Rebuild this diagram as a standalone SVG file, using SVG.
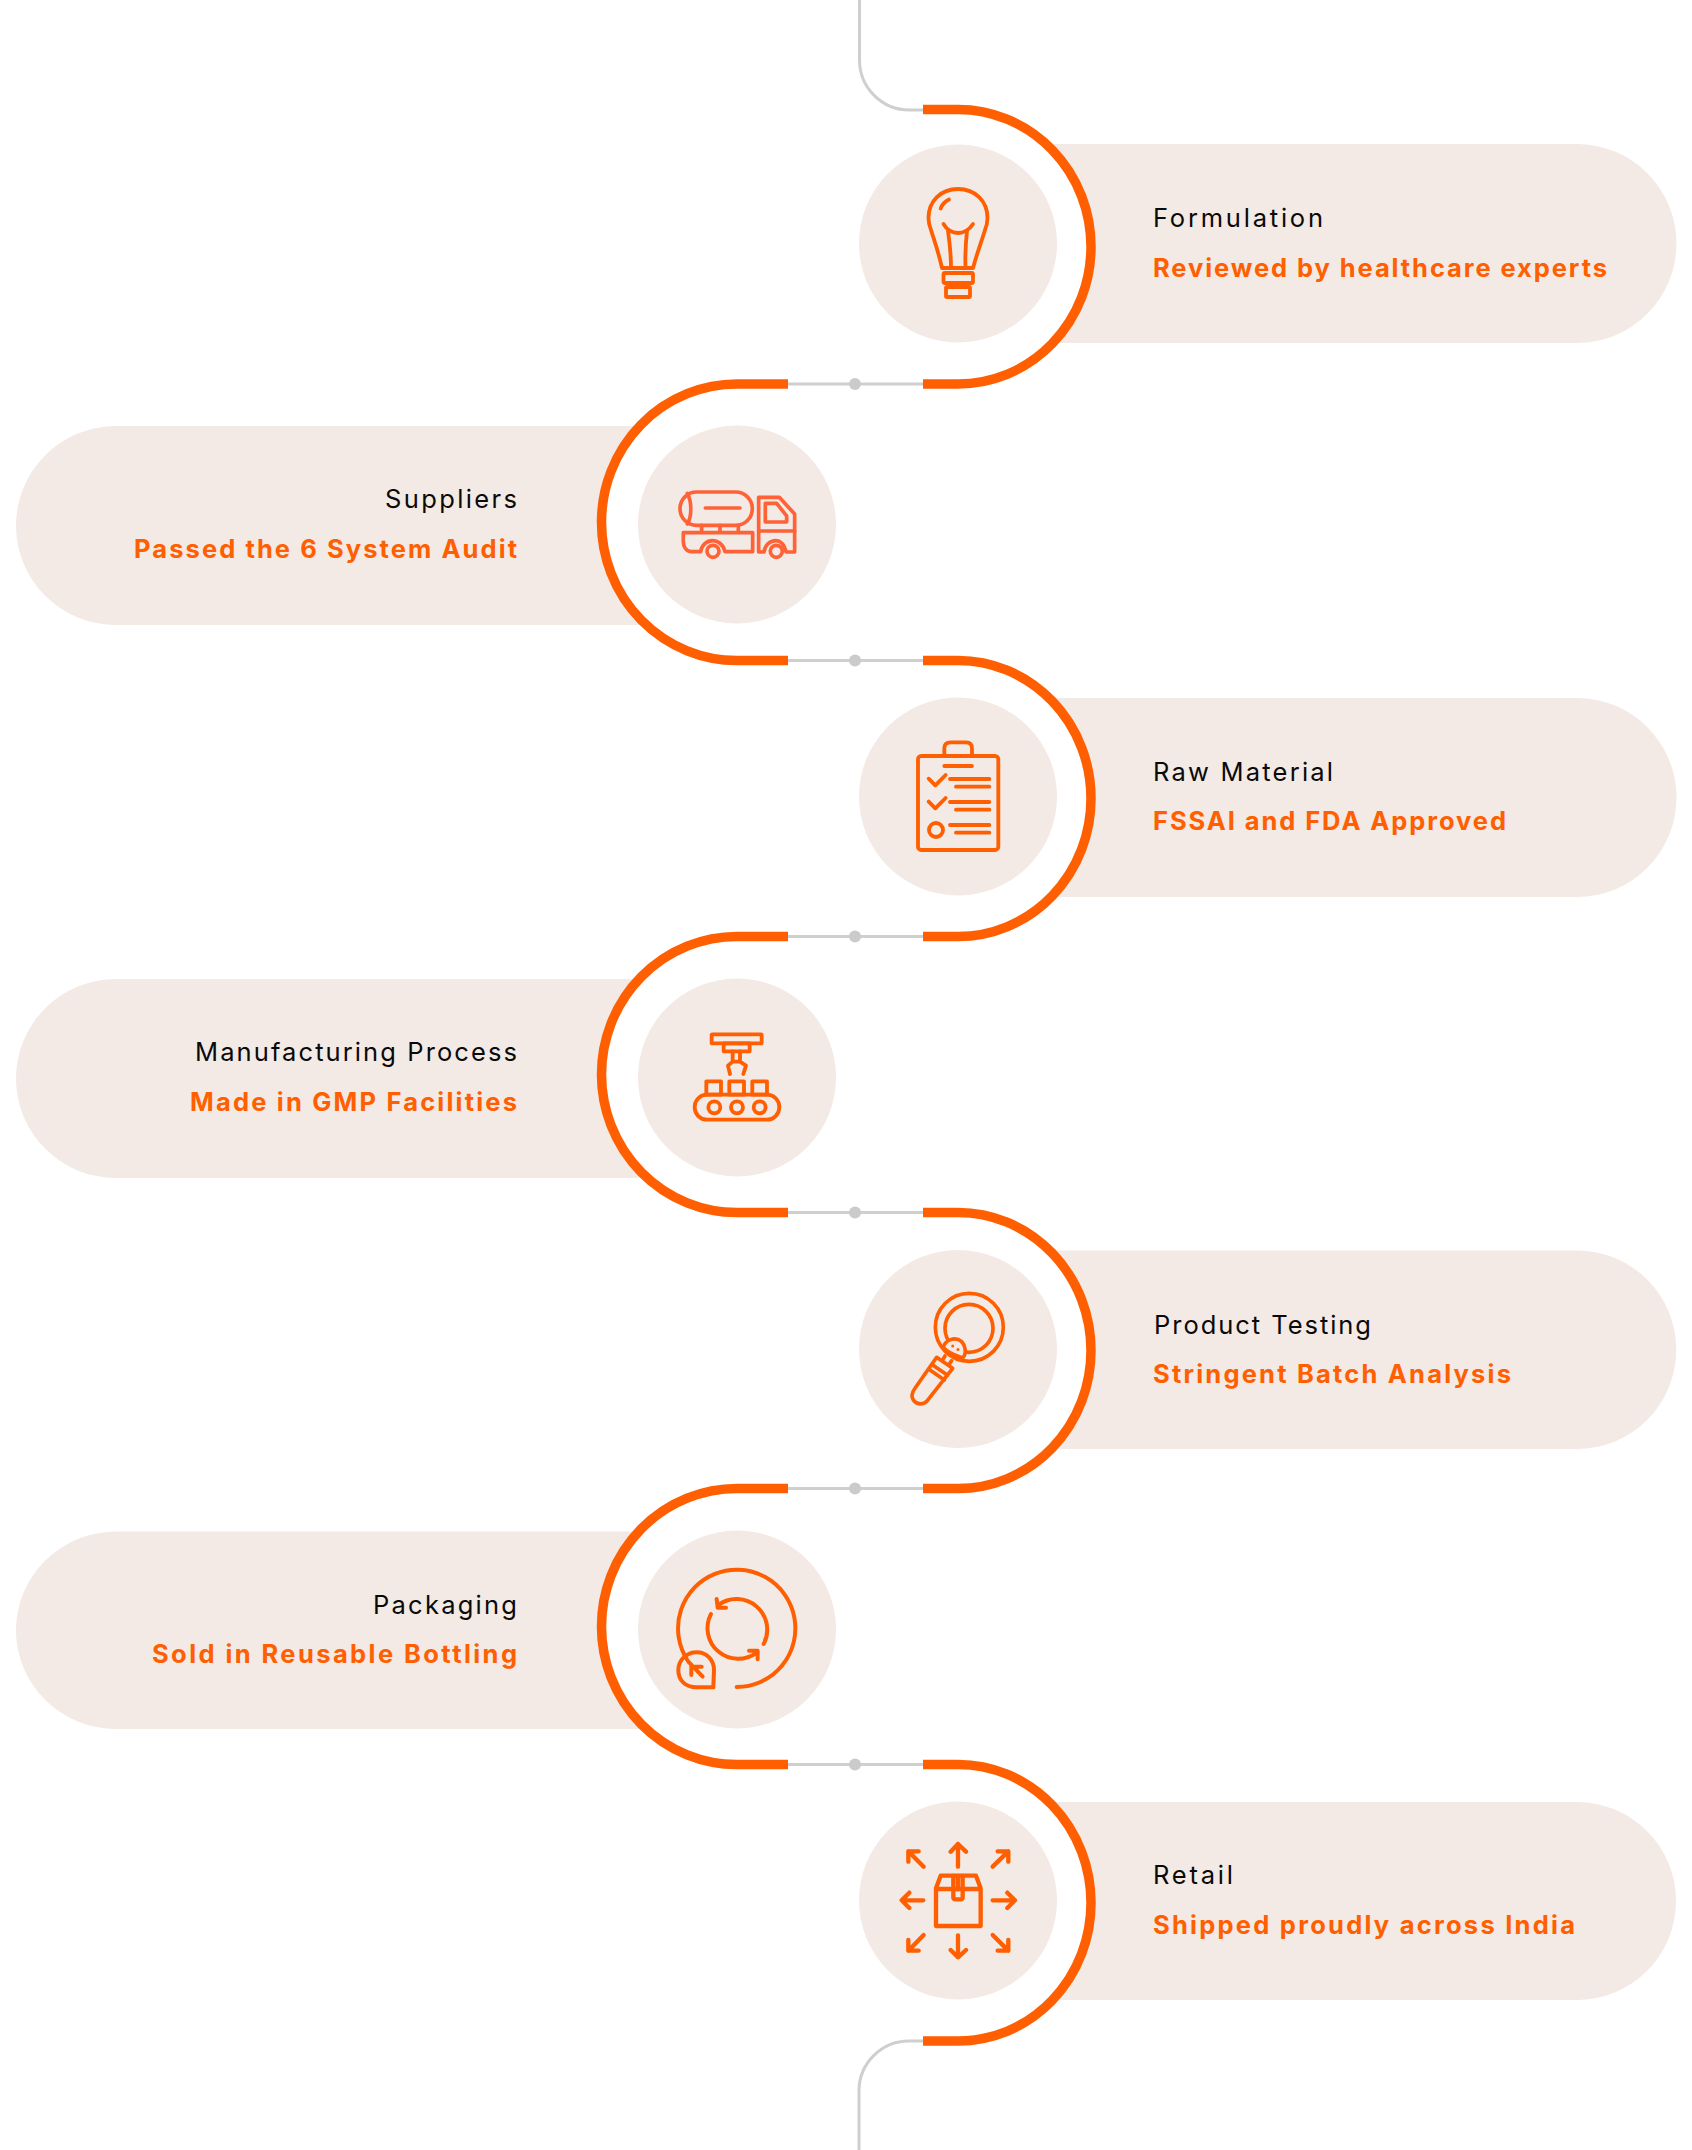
<svg xmlns="http://www.w3.org/2000/svg" width="1692" height="2150" viewBox="0 0 1692 2150">
<style>
.pill,.disc{fill:#f3e9e5}
.arc{fill:none;stroke:#ff5f00;stroke-width:9.500}
.grey{fill:none;stroke:#cfcfcf;stroke-width:3}
.dot{fill:#cbcbcb}
.ic{fill:none;stroke:#ff5f00;stroke-linecap:round;stroke-linejoin:round}
.t1{font-family:"Inter","Liberation Sans",sans-serif;font-size:25.500px;fill:#0a0a0a;font-variant-ligatures:none}
.t2{font-family:"Inter","Liberation Sans",sans-serif;font-size:25.500px;font-weight:700;fill:#ff5f00;font-variant-ligatures:none}
.e{text-anchor:end}
</style>
<rect width="1692" height="2150" fill="#fff"/>

<g id="node-formulation">
<path class="pill" d="M1046 144H1577A99.500 99.500 0 0 1 1577 343H1053A133 137.250 0 0 0 1046 144Z"/>
<circle class="disc" cx="958" cy="243.500" r="99"/>
<g class="ic" stroke-width="3.800">
<path d="M942 268C938 250 934 240 931 230C929 225 928.500 222 928.500 218C928.500 201 941 189 958 189C975 189 987.500 201 987.500 218C987.500 222 987 225 985 230C982 240 978 250 973 268Z"/>
<path d="M943.500 224C947 230 952 233 958 233C964 233 969 230 973 224"/>
<path d="M948 231C950 245 951 255 951 267M967 231C965.500 245 965 255 965.500 267"/>
<path d="M949 199.500C945 201.500 942 204.500 940.700 208.500"/>
<rect x="943.500" y="273" width="29.500" height="10" rx="1.500"/>
<rect x="946" y="287" width="24" height="10" rx="1"/>
</g>
<text class="t1" x="1153" y="227.300" textLength="170">Formulation</text>
<text class="t2" x="1153" y="276.800" textLength="454">Reviewed by healthcare experts</text>
</g>

<g id="node-suppliers">
<path class="pill" d="M640 426H116A100 99.500 0 0 0 116 625H647A135.500 138 0 0 1 640 426Z"/>
<circle class="disc" cx="737" cy="524.500" r="99"/>
<g class="ic" transform="translate(600 370) scale(.3333)" stroke-width="11" style="stroke:#ff6236">
<rect x="240" y="366" width="217" height="100" rx="50"/>
<path d="M262 370C276 395 276 440 262 462M316 414H420M305 466V486M360 466V486M415 466V486"/>
<path d="M250 488H458V545H375C370 522 352 512 338 512C320 512 305 525 302 545H275C258 545 250 530 250 515Z"/>
<circle cx="339" cy="544" r="18"/>
<path d="M476 382H538L584 432V546H558C553 522 540 512 528 512C510 512 495 525 492 546H476Z"/>
<path d="M496 400H530L560 438V456H496ZM476 483H584"/>
<circle cx="529" cy="544" r="18"/>
</g>
<text class="t1 e" x="517" y="508.300" textLength="132">Suppliers</text>
<text class="t2 e" x="517" y="558.300" textLength="383">Passed the 6 System Audit</text>
</g>

<g id="node-raw-material">
<path class="pill" d="M1050 698H1577A99.500 99.500 0 0 1 1577 897H1051A133 138 0 0 0 1050 698Z"/>
<circle class="disc" cx="958" cy="796.500" r="99"/>
<g class="ic" transform="translate(860 700) scale(.3333)" stroke-width="11.500">
<rect x="174" y="168" width="241" height="282" rx="10"/>
<path d="M253 165V145Q253 127 272 127H318Q336 127 336 145V165M253 198H336"/>
<path d="M206 236L226 256L257 225M270 237H388M288 260H388M206 305L226 325L257 294M270 306H388M288 329H388M270 375H388M288 398H388"/>
<circle cx="228" cy="390" r="21"/>
</g>
<text class="t1" x="1153" y="781.300" textLength="180">Raw Material</text>
<text class="t2" x="1153" y="830.300" textLength="353">FSSAI and FDA Approved</text>
</g>

<g id="node-manufacturing">
<path class="pill" d="M639 979H116A100 99.500 0 0 0 116 1178H647A135.500 138 0 0 1 639 979Z"/>
<circle class="disc" cx="737" cy="1077.500" r="99"/>
<g class="ic" transform="translate(660 1000) scale(.3333)" stroke-width="11.500">
<rect x="155" y="103" width="150" height="27" rx="2"/>
<path d="M191 130H269V154H191Z"/>
<path d="M218 154V185M240 154V185M218 185H240M218 185L204 197L210 222M240 185L258 197L250 222"/>
<rect x="139" y="244" width="44" height="40"/>
<rect x="208" y="244" width="44" height="40"/>
<rect x="277" y="244" width="44" height="40"/>
<rect x="104" y="284" width="254" height="75" rx="37"/>
<circle cx="163" cy="322" r="18"/>
<circle cx="231" cy="322" r="18"/>
<circle cx="299" cy="322" r="18"/>
</g>
<text class="t1 e" x="517" y="1061.300" textLength="322">Manufacturing Process</text>
<text class="t2 e" x="517" y="1111.300" textLength="327">Made in GMP Facilities</text>
</g>

<g id="node-testing">
<path class="pill" d="M1050 1250.500H1577A99.250 99.250 0 0 1 1577 1449H1051A133 138 0 0 0 1050 1250.500Z"/>
<circle class="disc" cx="958" cy="1349" r="99"/>
<g class="ic" transform="translate(880 1270) scale(.3333)" stroke-width="11">
<circle cx="268" cy="172" r="102"/>
<circle cx="267" cy="175" r="72"/>
<path d="M190 232C195 210 225 198 245 215C255 225 262 250 248 264C232 258 205 250 190 232Z" fill="#f3e9e5"/>
<path d="M195 258L189 268M215 272L208 282"/>
<path d="M170 262L218 295L142 392C130 405 110 405 100 390C92 378 98 365 105 355ZM158 285L203 316M150 300L193 330"/>
</g>
<circle cx="952.700" cy="1346" r="1.500" fill="#ff5f00"/>
<circle cx="958" cy="1349.500" r="1.500" fill="#ff5f00"/>
<text class="t1" x="1154" y="1334.300" textLength="217">Product Testing</text>
<text class="t2" x="1153" y="1383.300" textLength="358">Stringent Batch Analysis</text>
</g>

<g id="node-packaging">
<path class="pill" d="M639 1531.500H116A100 98.750 0 0 0 116 1729H646A135.500 138.250 0 0 1 639 1531.500Z"/>
<circle class="disc" cx="737" cy="1629.500" r="99"/>
<g class="ic" transform="translate(650 1540) scale(.3333)" stroke-width="12">
<path d="M260 441A176 176 0 1 0 112 360"/>
<path d="M190 442H140C105 442 85 420 85 390C85 360 110 337 140 337C170 337 192 360 192 390Z"/>
<path d="M115 365L158 410M124 405V378M135 380H155"/>
<path d="M341 312A92 92 0 0 0 205 195M200 177L203 203H228"/>
<path d="M183 222A92 92 0 0 0 320 338M297 332H323V358"/>
</g>
<text class="t1 e" x="517" y="1614.300" textLength="144">Packaging</text>
<text class="t2 e" x="517" y="1663.300" textLength="365">Sold in Reusable Bottling</text>
</g>

<g id="node-retail">
<path class="pill" d="M1048 1802H1577A99 99 0 0 1 1577 2000H1052A133 138 0 0 0 1048 1802Z"/>
<circle class="disc" cx="958" cy="1900.500" r="99"/>
<g class="ic" transform="translate(880 1820) scale(.3333)" stroke-width="13">
<path d="M168 318V205L182 167H288L302 205V318ZM168 207H302"/>
<path d="M220 168V232Q220 238 226 238H242Q248 238 248 232V168M234 172V208"/>
<path d="M234 140V72M212 95L234 72L258 95M234 346V412M212 390L234 412L258 390M130 241H65M88 218L65 241L88 264M338 241H405M382 218L405 241L382 264"/>
<path d="M131 140L85 94M85 125V94H116M338 140L385 94M353 94H385V125M131 345L85 392M85 360V392H116M338 345L385 392M353 392H385V360"/>
</g>
<text class="t1" x="1153" y="1884.300" textLength="80">Retail</text>
<text class="t2" x="1153" y="1934.300" textLength="422">Shipped proudly across India</text>
</g>

<g id="connectors">
<path class="grey" d="M859.500 0V60A50 50 0 0 0 909.500 110H925"/>
<path class="grey" d="M785 384H925"/><circle class="dot" cx="855" cy="384" r="6"/>
<path class="grey" d="M785 660.500H925"/><circle class="dot" cx="855" cy="660.500" r="6"/>
<path class="grey" d="M785 936.500H925"/><circle class="dot" cx="855" cy="936.500" r="6"/>
<path class="grey" d="M785 1212.500H925"/><circle class="dot" cx="855" cy="1212.500" r="6"/>
<path class="grey" d="M785 1488.500H925"/><circle class="dot" cx="855" cy="1488.500" r="6"/>
<path class="grey" d="M785 1764.500H925"/><circle class="dot" cx="855" cy="1764.500" r="6"/>
<path class="grey" d="M925 2041H909A50 50 0 0 0 859 2091V2150"/>
<path class="arc" d="M923 109.500H958A133 137.250 0 0 1 958 384H923"/>
<path class="arc" d="M788 384H737A135.500 138.250 0 0 0 737 660.500H788"/>
<path class="arc" d="M923 660.500H958A133 138 0 0 1 958 936.500H923"/>
<path class="arc" d="M788 936.500H737A135.500 138 0 0 0 737 1212.500H788"/>
<path class="arc" d="M923 1212.500H958A133 138 0 0 1 958 1488.500H923"/>
<path class="arc" d="M788 1488.500H737A135.500 138 0 0 0 737 1764.500H788"/>
<path class="arc" d="M923 1764.500H958A133 138.250 0 0 1 958 2041H923"/>
</g>
</svg>
